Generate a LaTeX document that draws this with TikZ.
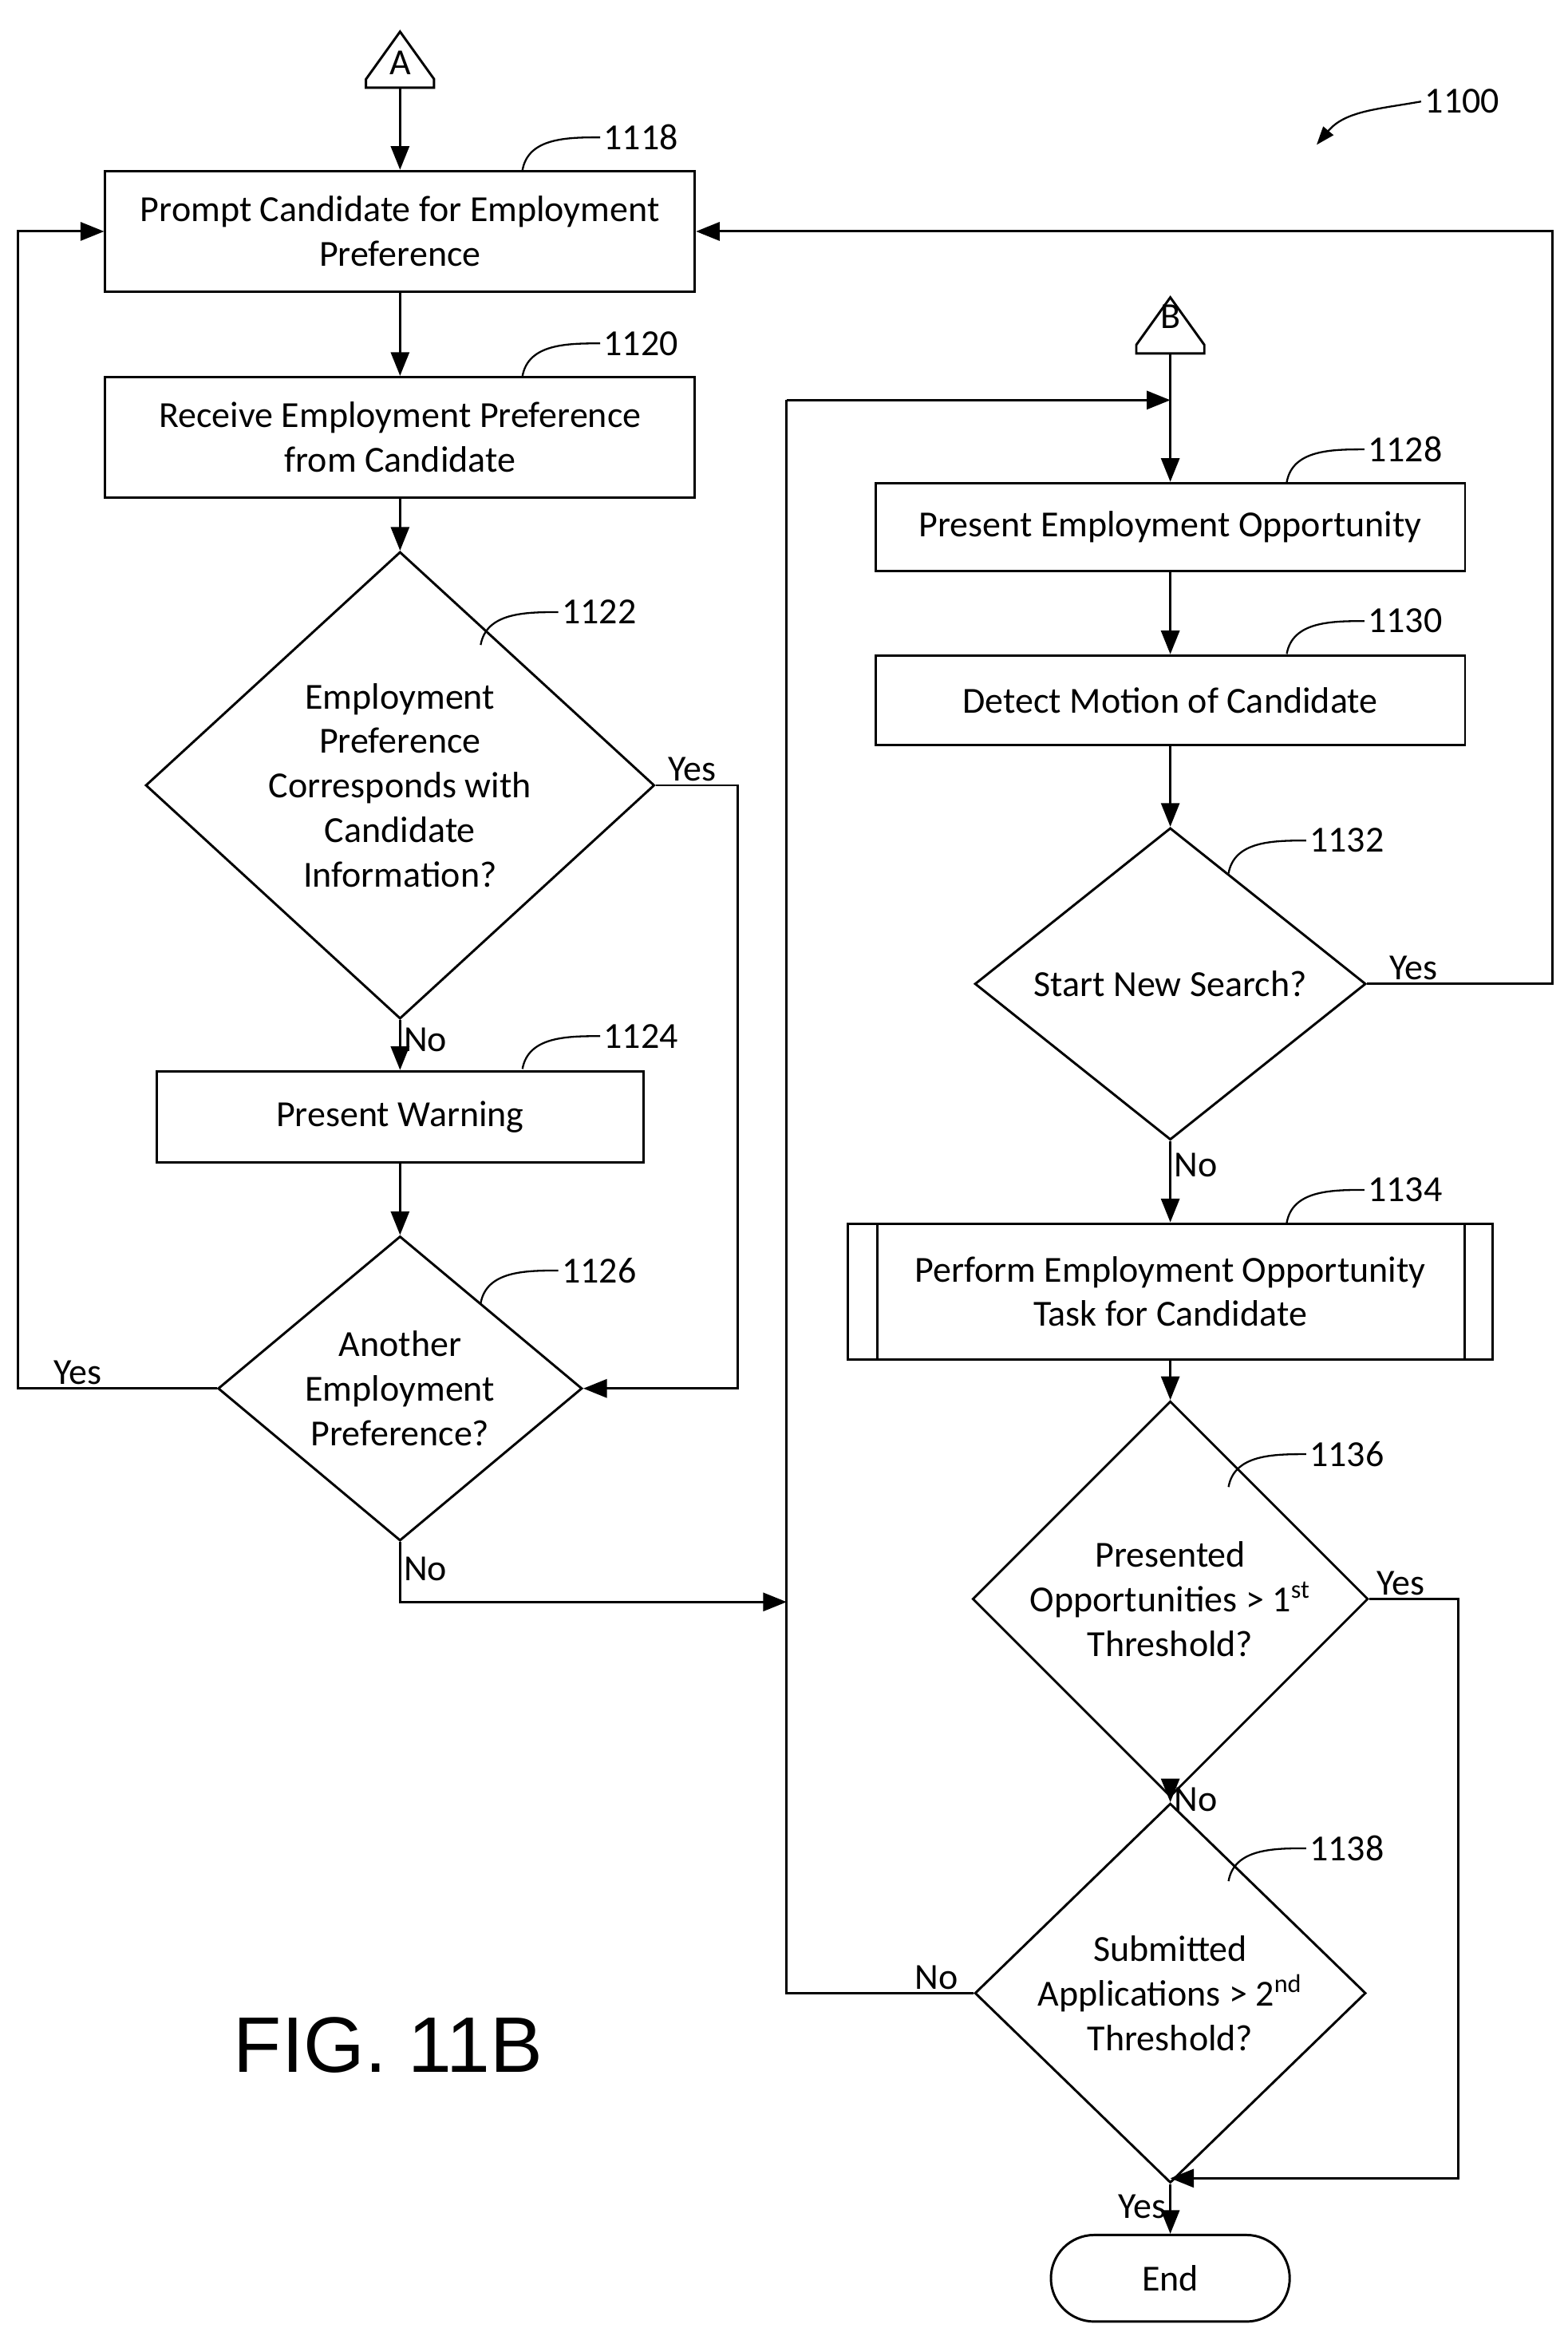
\documentclass[tikz,border=0pt]{standalone}
\usepackage{fontspec}
\setmainfont{Carlito}
\newfontfamily\figfont{Liberation Sans}
\usetikzlibrary{shapes.geometric,arrows.meta}
\begin{document}
\begin{tikzpicture}[
      x = 0.02cm, y = -0.02cm,
      font = \fontsize{14}{17}\selectfont,
      line width = 0.9pt,
      >={Triangle[length=9pt,width=7pt]},
      box/.style = {
        rectangle,
        draw = black,
        align = center,
        inner sep = 0,
      },
      decision/.style = {
        diamond,
        draw = black,
        align = center,
        inner sep = 0,
        minimum width = 6.82cm,
        minimum height = 5.44cm,
      },
      terminal/.style = {
        rectangle,
        draw = black,
        rounded corners = 0.58cm,
        minimum width = 3.2cm,
        minimum height = 1.16cm,
      },
      conn/.style = {
        inner sep = 0,
        minimum width = 0.88cm,
        minimum height = 0.72cm,
      },
      lbl/.style = {
        inner sep = 1pt,
      },
      leader/.style = {
        line width = 0.7pt,
      }
    ]
    \useasboundingbox (0,0) rectangle (1050,1562);
    % off-page connectors
    \node[conn] (A) at (268,40) {};
    \draw (A.south west) -- ([yshift=-0.26cm]A.west) -- (A.north) -- ([yshift=-0.26cm]A.east) -- (A.south east) -- cycle;
    \node at (268,42) {A};
    \node[conn] (B) at (784,218) {};
    \draw (B.south west) -- ([yshift=-0.26cm]B.west) -- (B.north) -- ([yshift=-0.26cm]B.east) -- (B.south east) -- cycle;
    \node at (784,212) {B};
    % left column
    \node[box, minimum width = 7.9cm, minimum height = 1.62cm] (prompt) at (268,155)
      {Prompt Candidate for Employment\\Preference};
    \node[box, minimum width = 7.9cm, minimum height = 1.62cm] (receive) at (268,293)
      {Receive Employment Preference\\from Candidate};
    \node[decision] (match) at (268,526)
      {Employment\\Preference\\Corresponds with\\Candidate\\Information?};
    \node[box, minimum width = 6.52cm, minimum height = 1.22cm] (warn) at (268,748) {Present Warning};
    \node[decision, minimum width = 4.88cm, minimum height = 3.88cm] (another) at (268,930)
      {Another\\Employment\\Preference?};
    % right column
    \node[box, minimum width = 7.9cm, minimum height = 1.18cm] (present) at (784,353) {Present Employment Opportunity};
    \node[box, minimum width = 7.9cm, minimum height = 1.2cm] (motion) at (784,469) {Detect Motion of Candidate};
    \node[decision, minimum width = 5.24cm, minimum height = 4.18cm] (search) at (784,659) {Start New Search?};
    \node[box, minimum width = 8.64cm, minimum height = 1.82cm] (perform) at (784,865)
      {Perform Employment Opportunity\\Task for Candidate};
    \draw (588,820) -- (588,911) (981,820) -- (981,911);
    \node[decision, minimum width = 5.24cm, minimum height = 4.16cm] (first) at (784,1071)
      {Presented\\Opportunities > 1\textsuperscript{st}\\Threshold?};
    \node[decision, minimum width = 5.24cm, minimum height = 4.16cm] (second) at (784,1335)
      {Submitted\\Applications > 2\textsuperscript{nd}\\Threshold?};
    \node[terminal] (end) at (784,1526) {End};
    \node[font = \figfont\fontsize{30}{34}\selectfont] (fig) at (260,1370) {FIG. 11B};
    % helper points
    \coordinate (join) at (527,1073);
    \coordinate (top) at (784,268);
    \coordinate (merge) at (784,1459);
    % connectors
    \draw[->] (A) -- (prompt);
    \draw[->] (prompt) -- (receive);
    \draw[->] (receive) -- (match);
    \draw[->] (match) -- node[lbl, right, pos=0.4] {No} (warn);
    \draw[->] (warn) -- (another);
    \draw[->] (match.east) -- node[lbl, above, pos=0.45] {Yes} (494,526) |- (another.east);
    \draw[->] (another.west) -- node[lbl, above, pos=0.7] {Yes} (12,930) |- (prompt.west);
    \draw[->] (another.south) -- node[lbl, right, pos=0.45] {No} (268,1073) -- (join);
    \draw (second.west) -- node[lbl, above, pos=0.2] {No} (527,1335) -- (527,268);
    \draw[->] (527,268) -- (top);
    \draw[->] (B) -- (present);
    \draw[->] (present) -- (motion);
    \draw[->] (motion) -- (search);
    \draw[->] (search.east) -- node[lbl, above, pos=0.25] {Yes} (1040,659) |- (prompt.east);
    \draw[->] (search) -- node[lbl, right, pos=0.3] {No} (perform);
    \draw[->] (perform) -- (first);
    \draw[->] (first) -- node[lbl, right, pos=0.35] {No} (second);
    \draw[->] (first.east) -- node[lbl, above, pos=0.35] {Yes} (977,1071) |- (merge);
    \draw[->] (second) -- node[lbl, left, pos=0.45] {Yes} (end);
    % reference numerals
    \foreach \x/\y/\num in {350/114/1118, 350/252/1120, 322/432/1122, 350/716/1124, 322/873/1126,
                            862/323/1128, 862/438/1130, 823/585/1132, 862/819/1134, 823/996/1136, 823/1260/1138}{
      \draw[leader] (\x,\y) to[out=80, in=180] (\x+52,\y-22) node[right, inner sep=1pt] {\num};
    }
    \node[right, inner sep=1pt] (fignum) at (952,68) {1100};
    \draw[leader, -{Triangle[length=7pt,width=5pt]}] (fignum.west) to[out=190, in=50] (882,97);
\end{tikzpicture}
\end{document}
